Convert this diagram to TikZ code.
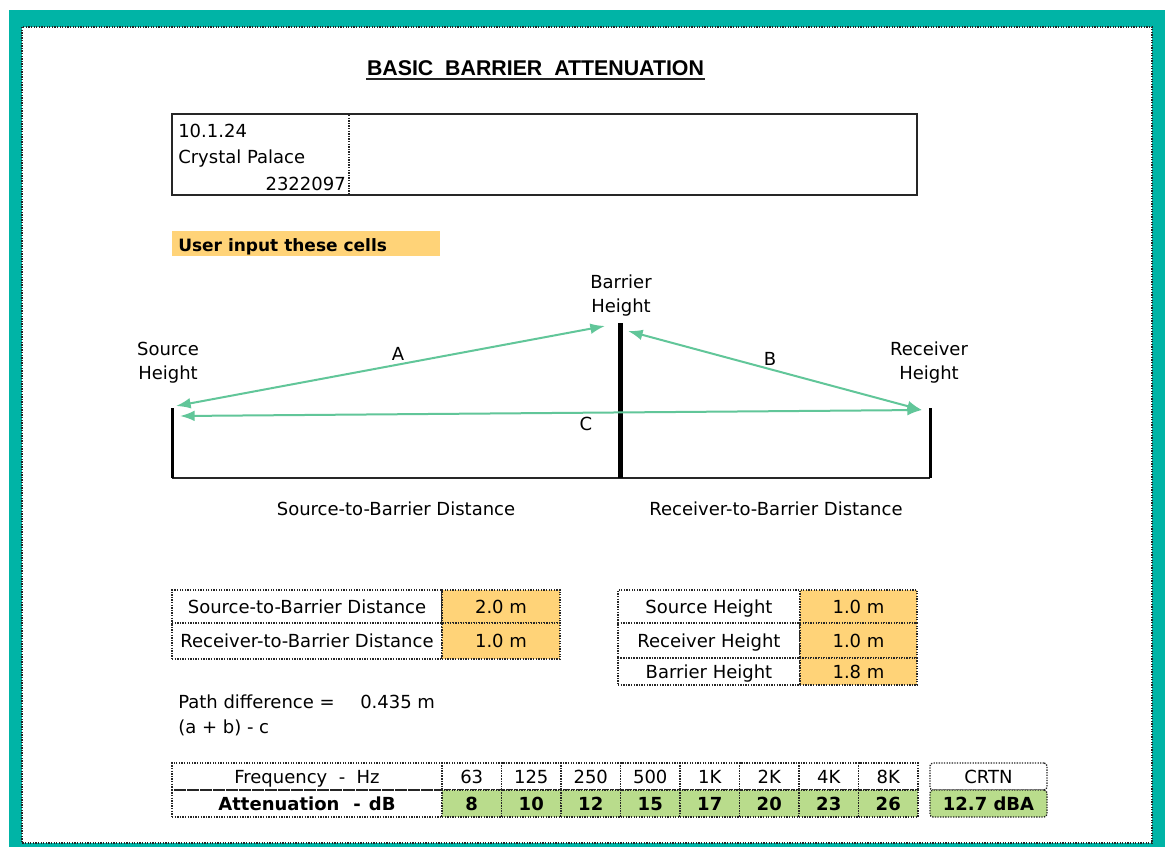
\documentclass[tikz,border=0pt]{standalone}
\usepackage{fontspec}
\setmainfont{DejaVu Sans}
\newfontfamily\titlefont{Liberation Sans}
\usetikzlibrary{arrows.meta}

\newlength{\du}
\setlength{\du}{0.75pt}

\definecolor{framecolor}{rgb}{0.000000, 0.705882, 0.650980}
\definecolor{inputcolor}{rgb}{1.000000, 0.827451, 0.470588}
\definecolor{resultcolor}{rgb}{0.725490, 0.862745, 0.549020}
\definecolor{raycolor}{rgb}{0.380392, 0.776471, 0.600000}
\definecolor{gridcolor}{rgb}{0.150000, 0.150000, 0.150000}

\tikzset{
  txt/.style={anchor=base, inner sep=0pt, font=\fontsize{13.5}{18}\selectfont},
  btxt/.style={anchor=base, inner sep=0pt, font=\fontsize{12.75}{18}\selectfont\bfseries},
  twoline/.style={align=center, inner sep=0pt, font=\fontsize{13.5}{18}\selectfont},
  griddot/.style={draw=gridcolor, line width=1.3\du, dash pattern=on 1.3\du off 1.3\du},
  cell/.style={griddot, inner sep=0pt, text height=13\du, text depth=0pt, font=\fontsize{13.5}{18}\selectfont},
  bcell/.style={cell, font=\fontsize{13.5}{18}\selectfont\bfseries},
  ray/.style={draw=raycolor, line width=2\du, {Latex[length=11pt,width=8pt]}-{Latex[length=11pt,width=8pt]}},
  pole/.style={draw=black, line width=3\du},
}

\begin{document}
\begin{tikzpicture}
\pgftransformxscale{1.000000}
\pgftransformyscale{-1.000000}
\useasboundingbox (0\du,0\du) rectangle (1165\du,847\du);
% sheet frame
\fill[framecolor] (9\du,10\du) rectangle (1165\du,847\du);
\fill[white] (22\du,27\du) rectangle (1152\du,843\du);
\draw[griddot] (22\du,27\du) rectangle (1152\du,843\du);
% title
\node (title) [anchor=base, inner sep=0pt, font=\titlefont\fontsize{16}{18}\selectfont\bfseries] at (535.5\du,75\du) {BASIC\ \ BARRIER\ \ ATTENUATION};
\draw[line width=2\du, gridcolor] (366\du,79\du) -- (705\du,79\du);
% job box
\node (info) [draw=gridcolor, line width=2\du, inner sep=0pt, minimum width=745\du, minimum height=81\du] at (544.5\du,154.5\du) {};
\draw[griddot] (349\du,115\du) -- (349\du,194\du);
\node (infodate) [txt, anchor=base west] at (178\du,137\du) {10.1.24};
\node (infosite) [txt, anchor=base west] at (178\du,163\du) {Crystal Palace};
\node (inforef) [txt, anchor=base east] at (346\du,190\du) {2322097};
% input note
\node (userbar) [fill=inputcolor, inner sep=0pt, minimum width=268\du, minimum height=25\du] at (306\du,243.5\du) {};
\node (usertext) [btxt, anchor=base west] at (178\du,251\du) {User input these cells};
% section sketch
\coordinate (srctop) at (172\du,408\du);
\coordinate (srcbase) at (172\du,478\du);
\coordinate (bartop) at (620\du,323\du);
\coordinate (barbase) at (620\du,478\du);
\coordinate (rcvtop) at (930\du,408\du);
\coordinate (rcvbase) at (930\du,478\du);
\draw[line width=2\du, gridcolor] (srcbase) -- (rcvbase);
\draw[pole] (srctop) -- (srcbase);
\draw[pole] (rcvtop) -- (rcvbase);
\draw[pole, line width=5\du] (bartop) -- (barbase);
\node (srclabel) [twoline] at (168\du,362.5\du) {Source\\Height};
\node (barlabel) [twoline] at (621\du,295.5\du) {Barrier\\Height};
\node (rcvlabel) [twoline] at (929\du,362.5\du) {Receiver\\Height};
% rays
\coordinate (rayAbar) at (605\du,326\du);
\coordinate (rayAsrc) at (176\du,406\du);
\coordinate (rayBbar) at (628\du,331\du);
\coordinate (rayBrcv) at (922\du,410\du);
\coordinate (rayCsrc) at (180\du,416\du);
\coordinate (rayCrcv) at (922\du,410\du);
\draw[ray] (rayAbar) -- (rayAsrc);
\draw[ray] (rayBbar) -- (rayBrcv);
\draw[ray] (rayCsrc) -- (rayCrcv);
\node (labA) [txt] at (398\du,360\du) {A};
\node (labB) [txt] at (770\du,365\du) {B};
\node (labC) [txt] at (586\du,430\du) {C};
\node (sbdtitle) [txt] at (396\du,515\du) {Source-to-Barrier Distance};
\node (rbdtitle) [txt] at (776\du,515\du) {Receiver-to-Barrier Distance};
% distance cells
\node (sbdname) [cell, minimum width=270\du, minimum height=33\du] at (307\du,606.5\du) {Source-to-Barrier Distance};
\node (sbdval) [cell, fill=inputcolor, minimum width=118\du, minimum height=33\du] at (501\du,606.5\du) {2.0 m};
\node (rbdname) [cell, minimum width=270\du, minimum height=36\du] at (307\du,641\du) {Receiver-to-Barrier Distance};
\node (rbdval) [cell, fill=inputcolor, minimum width=118\du, minimum height=36\du] at (501\du,641\du) {1.0 m};
% height cells
\node (shname) [cell, minimum width=182\du, minimum height=33\du] at (709\du,606.5\du) {Source Height};
\node (shval) [cell, fill=inputcolor, minimum width=117\du, minimum height=33\du] at (858.5\du,606.5\du) {1.0 m};
\node (rhname) [cell, minimum width=182\du, minimum height=35\du] at (709\du,640.5\du) {Receiver Height};
\node (rhval) [cell, fill=inputcolor, minimum width=117\du, minimum height=35\du] at (858.5\du,640.5\du) {1.0 m};
\node (bhname) [cell, minimum width=182\du, minimum height=27\du] at (709\du,671.5\du) {Barrier Height};
\node (bhval) [cell, fill=inputcolor, minimum width=117\du, minimum height=27\du] at (858.5\du,671.5\du) {1.8 m};
% path difference
\node (pathname) [txt, anchor=base west] at (178\du,708\du) {Path difference =};
\node (pathval) [txt, anchor=base west] at (360\du,708\du) {0.435 m};
\node (pathform) [txt, anchor=base west] at (178\du,733\du) {(a + b) - c};
% spectrum
\node (freqname) [cell, minimum width=270\du, minimum height=27\du] at (307\du,776.5\du) {Frequency\ \ -\ \ Hz};
\node (attname) [bcell, minimum width=270\du, minimum height=27\du] at (307\du,803.5\du) {Attenuation\hspace{14\du}-\hspace{8\du}dB};
\foreach \f/\a [count=\i, evaluate=\i as \cx using 412.25+59.5*\i] in {63/8,125/10,250/12,500/15,1K/17,2K/20,4K/23,8K/26} {
  \node (freq\i) [cell, minimum width=59.5\du, minimum height=27\du] at (\cx\du,776.5\du) {\f};
  \node (att\i) [bcell, fill=resultcolor, minimum width=59.5\du, minimum height=27\du] at (\cx\du,803.5\du) {\a};
}
\node (crtnname) [cell, rounded corners=3\du, minimum width=117\du, minimum height=27\du] at (988.5\du,776.5\du) {CRTN};
\node (crtnval) [bcell, rounded corners=3\du, fill=resultcolor, minimum width=117\du, minimum height=27\du] at (988.5\du,803.5\du) {12.7 dBA};
\end{tikzpicture}
\end{document}
